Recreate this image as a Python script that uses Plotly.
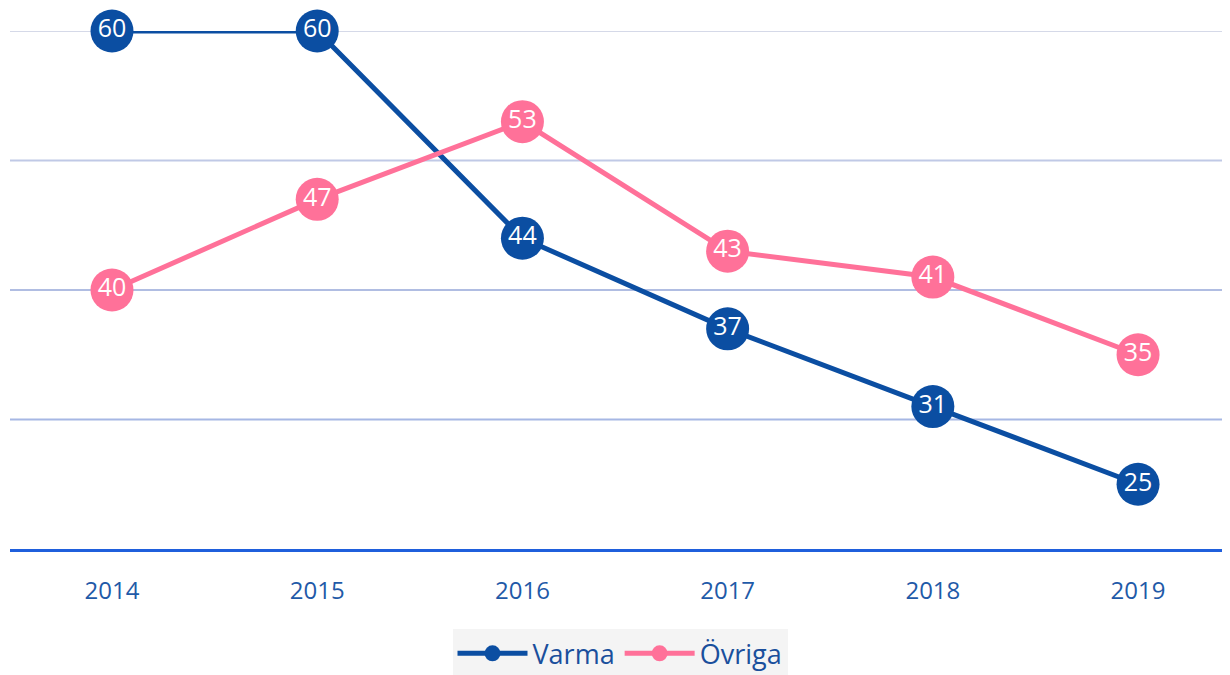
import plotly.graph_objects as go

years = ["2014", "2015", "2016", "2017", "2018", "2019"]
varma = [60, 60, 44, 37, 31, 25]
ovriga = [40, 47, 53, 43, 41, 35]
grid_vals = [30, 40, 50, 60]
grid_colors = ["#a6b7e4", "#b0bde2", "#c0c9e6", "#d5d9e8"]

FONT = "Open Sans"
fig = go.Figure()
fig.add_trace(go.Scatter(
    x=years, y=varma, name="Varma", mode="lines+markers+text",
    line=dict(color="#0b4ea2", width=5),
    marker=dict(color="#0b4ea2", size=43),
    text=[str(v) for v in varma], textposition="middle center",
    textfont=dict(color="white", size=25, family=FONT), cliponaxis=False,
))
fig.add_trace(go.Scatter(
    x=years, y=ovriga, name="Övriga", mode="lines+markers+text",
    line=dict(color="#ff7199", width=5),
    marker=dict(color="#ff7199", size=43),
    text=[str(v) for v in ovriga], textposition="middle center",
    textfont=dict(color="white", size=25, family=FONT), cliponaxis=False,
))
for v, c in zip(grid_vals, grid_colors):
    fig.add_shape(type="line", xref="paper", x0=0, x1=1, yref="y", y0=v, y1=v,
                  line=dict(color=c, width=2), layer="below")

fig.update_layout(
    width=1222, height=667,
    margin=dict(l=2, r=0, t=23, b=126, autoexpand=False),
    plot_bgcolor="white", paper_bgcolor="white",
    showlegend=True,
    legend=dict(orientation="h", x=0.5, xanchor="center", y=-0.155, yanchor="top",
                bgcolor="#f4f4f4", font=dict(size=27, color="#1a4f9c", family=FONT),
                itemwidth=70, tracegroupgap=0, borderwidth=0),
    xaxis=dict(range=[-0.497, 5.448], showgrid=False, showline=True, linecolor="#1f5fdc",
               linewidth=3, zeroline=False, automargin=False,
               tickfont=dict(size=24, color="#1f5aa8", family=FONT), ticks="",
               ticklabelstandoff=18),
    yaxis=dict(range=[20, 60], showgrid=False, showticklabels=False, zeroline=False,
               showline=False, automargin=False),
)
fig.write_html("out.html")
